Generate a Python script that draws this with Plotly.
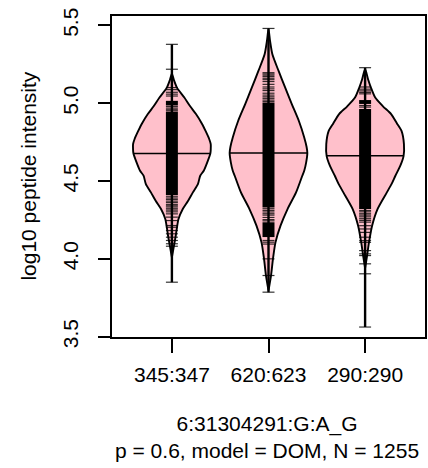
import numpy as np
import plotly.graph_objects as go

# ---------------- data ----------------
groups = ["345:347", "620:623", "290:290"]
medians = [4.677, 4.680, 4.662]
mins = [3.850, 3.786, 3.562]
maxs = [5.378, 5.480, 5.228]

# bean outline: intensity levels and relative density (max = 1)
g1_y = [5.19, 5.15, 5.10, 5.036, 4.98, 4.93, 4.87, 4.82, 4.77, 4.737, 4.70, 4.677, 4.62, 4.566,
        4.534, 4.48, 4.427, 4.37, 4.32, 4.256, 4.20, 4.15, 4.08, 4.01]
g1_d = [0.0, 0.05, 0.13, 0.32, 0.47, 0.62, 0.77, 0.87, 0.96, 1.0, 1.0, 0.99, 0.91, 0.82,
        0.73, 0.67, 0.54, 0.41, 0.28, 0.17, 0.13, 0.10, 0.05, 0.0]
g2_y = [5.475, 5.40, 5.314, 5.207, 5.10, 4.994, 4.887, 4.78, 4.72, 4.68, 4.62, 4.566, 4.534,
        4.427, 4.32, 4.213, 4.106, 4.0, 3.893, 3.797]
g2_d = [0.0, 0.04, 0.10, 0.26, 0.43, 0.60, 0.78, 0.92, 0.98, 1.0, 0.97, 0.92, 0.87,
        0.71, 0.49, 0.31, 0.18, 0.115, 0.065, 0.0]
g3_y = [5.22, 5.15, 5.10, 5.036, 4.98, 4.93, 4.87, 4.82, 4.737, 4.66, 4.60, 4.534, 4.48,
        4.427, 4.32, 4.213, 4.106, 4.02, 3.94]
g3_d = [0.0, 0.08, 0.15, 0.26, 0.46, 0.67, 0.82, 0.94, 1.0, 0.99, 0.91, 0.78, 0.68,
        0.56, 0.32, 0.18, 0.10, 0.05, 0.0]

# dense (solid) runs of bean lines: low / high
g1_band_lo = [4.410, 4.985]
g1_band_hi = [4.945, 5.015]
g2_band_lo = [4.330, 4.140]
g2_band_hi = [5.004, 4.235]
g3_band_lo = [4.320, 4.995]
g3_band_hi = [4.962, 5.020]

# individual bean lines outside the dense runs
g1_lines = [5.378, 5.218, 5.100, 5.087, 5.070, 5.058, 5.046, 4.978, 4.968, 4.958, 4.951,
            4.402, 4.391, 4.382, 4.371, 4.362, 4.350, 4.341, 4.333, 4.322, 4.313, 4.302,
            4.289, 4.268, 4.246, 4.214, 4.203, 4.182, 4.161, 4.139, 4.118, 4.097, 4.081, 3.850]
g2_lines = [5.480, 5.196, 5.188, 5.180, 5.171, 5.160, 5.151, 5.139, 5.121, 5.104, 5.092, 5.081,
            5.064, 5.052, 5.041, 5.031, 5.020, 5.011,
            4.322, 4.311, 4.301, 4.290, 4.281, 4.266, 4.252, 4.244,
            4.118, 4.107, 4.095, 4.000, 3.893, 3.786]
g3_lines = [5.228, 5.104, 5.090, 5.079, 5.069, 5.060, 4.985, 4.975,
            4.311, 4.302, 4.290, 4.281, 4.270, 4.258, 4.247, 4.236,
            4.213, 4.192, 4.170, 4.139, 4.117, 4.106, 4.053, 4.032, 4.021, 3.968, 3.904, 3.562]

y_ticks = [3.5, 4.0, 4.5, 5.0, 5.5]
y_ticklabels = ["3.5", "4.0", "4.5", "5.0", "5.5"]
y_title = "log10 peptide intensity"
x_title = "6:31304291:G:A_G<br>p = 0.6, model = DOM, N = 1255"

profiles_y = [g1_y, g2_y, g3_y]
profiles_d = [g1_d, g2_d, g3_d]
bands_lo = [g1_band_lo, g2_band_lo, g3_band_lo]
bands_hi = [g1_band_hi, g2_band_hi, g3_band_hi]
lines = [g1_lines, g2_lines, g3_lines]

# ---------------- styling ----------------
FONT = "Liberation Sans, Arial, Helvetica, sans-serif"
PINK = "#FFC0CB"
HALF = 0.402       # max half-width of a bean (x units)
BEAN_HALF = 0.062  # half-length of bean lines (x units)

fig = go.Figure()

for i, name in enumerate(groups):
    c = i + 1
    py = np.array(profiles_y[i])
    pd_ = np.array(profiles_d[i])
    xl = c - HALF * pd_
    xr = c + HALF * pd_
    xs = list(xl) + list(xr[::-1])
    ys = list(py) + list(py[::-1])
    # filled bean
    fig.add_trace(go.Scatter(x=xs, y=ys, mode="lines", fill="toself", fillcolor=PINK,
                             line=dict(color="rgba(0,0,0,0)", width=0, shape="spline", smoothing=0.7),
                             hoverinfo="skip", showlegend=False))
    # dense runs of bean lines (solid blocks)
    for lo, hi in zip(bands_lo[i], bands_hi[i]):
        fig.add_trace(go.Scatter(x=[c - BEAN_HALF, c + BEAN_HALF, c + BEAN_HALF, c - BEAN_HALF, c - BEAN_HALF],
                                 y=[lo, lo, hi, hi, lo], mode="lines", fill="toself",
                                 fillcolor="black", line=dict(color="black", width=0),
                                 hoverinfo="skip", showlegend=False))
    # single bean lines
    lx, ly = [], []
    for v in lines[i]:
        lx += [c - BEAN_HALF, c + BEAN_HALF, None]
        ly += [v, v, None]
    fig.add_trace(go.Scatter(x=lx, y=ly, mode="lines",
                             line=dict(color="rgba(0,0,0,0.8)", width=1.2),
                             hoverinfo="skip", showlegend=False))
    # vertical range line
    fig.add_trace(go.Scatter(x=[c, c], y=[mins[i], maxs[i]], mode="lines",
                             line=dict(color="black", width=2.4),
                             hoverinfo="skip", showlegend=False))
    # bean outline
    fig.add_trace(go.Scatter(x=xs, y=ys, mode="lines",
                             line=dict(color="black", width=1.9, shape="spline", smoothing=0.7),
                             hoverinfo="skip", showlegend=False))
    # median line
    w = HALF * np.interp(medians[i], py[::-1], pd_[::-1])
    fig.add_trace(go.Scatter(x=[c - w, c + w], y=[medians[i], medians[i]], mode="lines",
                             line=dict(color="black", width=1.5),
                             hoverinfo="skip", showlegend=False))

fig.update_layout(
    width=428, height=468,
    margin=dict(l=112, r=1, t=16, b=131),
    paper_bgcolor="white", plot_bgcolor="white",
    font=dict(family=FONT, size=21, color="black"),
    xaxis=dict(range=[0.38, 3.62], tickmode="array", tickvals=[1, 2, 3], ticktext=groups,
               showgrid=False, zeroline=False, showline=True, mirror=True,
               linecolor="black", linewidth=1.5, ticks="outside", ticklen=14, tickwidth=1.5,
               tickcolor="black", tickfont=dict(size=21), ticklabelstandoff=4),
    yaxis=dict(range=[3.498, 5.56], tickmode="array", tickvals=y_ticks, ticktext=y_ticklabels,
               showgrid=False, zeroline=False, showline=True, mirror=True,
               linecolor="black", linewidth=1.5, ticks="outside", ticklen=12, tickwidth=1.5,
               tickcolor="black", tickangle=-90, tickfont=dict(size=21), ticklabelstandoff=12),
    annotations=[
        dict(text=y_title, xref="paper", yref="paper", x=-0.268, y=0.5, xanchor="center",
             yanchor="middle", textangle=-90, showarrow=False, font=dict(size=21)),
        dict(text=x_title, xref="paper", yref="paper", x=0.495, y=-0.228, xanchor="center",
             yanchor="top", showarrow=False, font=dict(size=21)),
    ],
)

fig.write_html("out.html", config={"displayModeBar": False},
               post_script="document.body.style.margin='0';")
